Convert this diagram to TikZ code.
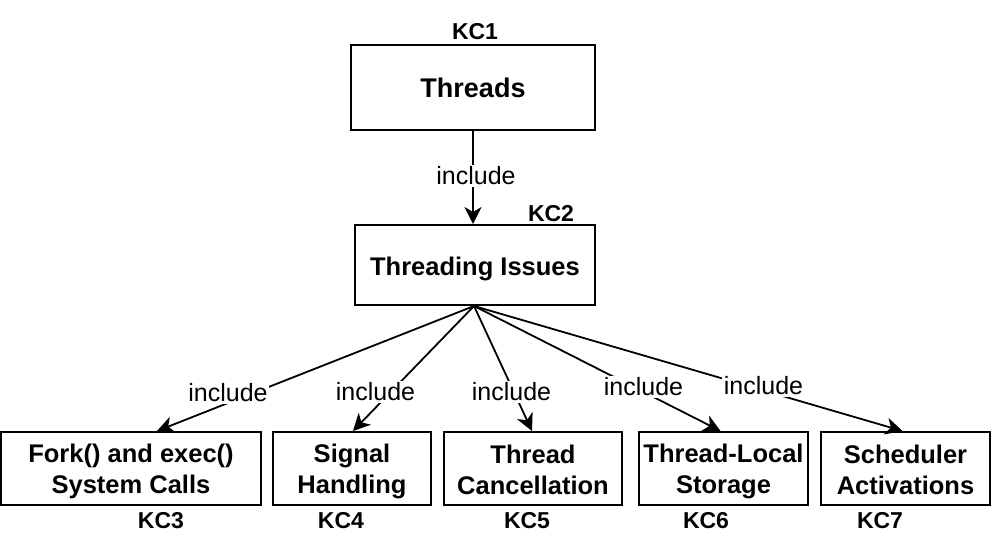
\documentclass[tikz,border=0pt]{standalone}
\usepackage{fontspec}
\setmainfont{Liberation Sans}
\usetikzlibrary{arrows.meta,calc}
\newcommand\bst{\rule[-5pt]{0pt}{30pt}}
\begin{document}
\begin{tikzpicture}[x=1pt,y=-1pt,
  box/.style={draw=black,line width=2pt,fill=white,inner sep=0pt,align=center,
    font=\fontsize{25.5}{31}\selectfont\bfseries},
  onebox/.style={box,text height=22pt,text depth=2pt},
  kc/.style={inner sep=0pt,font=\fontsize{23}{26}\selectfont\bfseries},
  lbl/.style={fill=white,inner sep=1.5pt,font=\fontsize{25}{28}\selectfont},
  conn/.style={line width=1.8pt,-{Stealth[length=17pt,width=17pt,inset=5pt]}}]
\useasboundingbox (0,0) rectangle (992,552);
\node[onebox,minimum width=244pt,minimum height=85pt,font=\fontsize{27}{31}\selectfont\bfseries] (t) at (473,87.5) {Threads};
\node[onebox,minimum width=240pt,minimum height=80pt] (ti) at (475,265) {Threading Issues};
\node[box,minimum width=260pt,minimum height=73pt] (fork) at (131,468.5) {\bst Fork() and exec()\\\bst System Calls};
\node[box,minimum width=158pt,minimum height=73pt] (sig) at (352,468.5) {\bst Signal\\\bst Handling};
\node[box,minimum width=178pt,minimum height=73pt] (can) at (533,468.5) {\bst Thread\\\bst Cancellation};
\node[box,minimum width=169pt,minimum height=73pt] (tls) at (723.5,468.5) {\bst Thread-Local\\\bst Storage};
\node[box,minimum width=169pt,minimum height=73pt] (sch) at (905.5,468.5) {\bst Scheduler\\\bst Activations};
\node[kc] (k1) at (475,32) {KC1};
\node[kc] (k2) at (551,214) {KC2};
\node[kc] (k3) at (161,521) {KC3};
\node[kc] (k4) at (341,521) {KC4};
\node[kc] (k5) at (527,521) {KC5};
\node[kc] (k6) at (706,521) {KC6};
\node[kc] (k7) at (880,521) {KC7};
\draw[conn] (t.south) -- (t.south |- ti.north);
\draw[conn] ([xshift=-1pt]ti.south) -- ([xshift=26pt]fork.north);
\draw[conn] ([xshift=-1pt]ti.south) -- ([xshift=1pt]sig.north);
\draw[conn] ([xshift=-1pt]ti.south) -- ([xshift=-1pt]can.north);
\draw[conn] ([xshift=-1pt]ti.south) -- ([xshift=-3pt]tls.north);
\draw[conn] ([xshift=-1pt]ti.south) -- ([xshift=-3pt]sch.north);
\node[lbl] (l0) at (476,176) {include};
\node[lbl] (l1) at (228,393) {include};
\node[lbl] (l2) at (375.5,392) {include};
\node[lbl] (l3) at (511.5,392) {include};
\node[lbl] (l4) at (643.5,387) {include};
\node[lbl] (l5) at (763.5,386) {include};
\end{tikzpicture}
\end{document}
